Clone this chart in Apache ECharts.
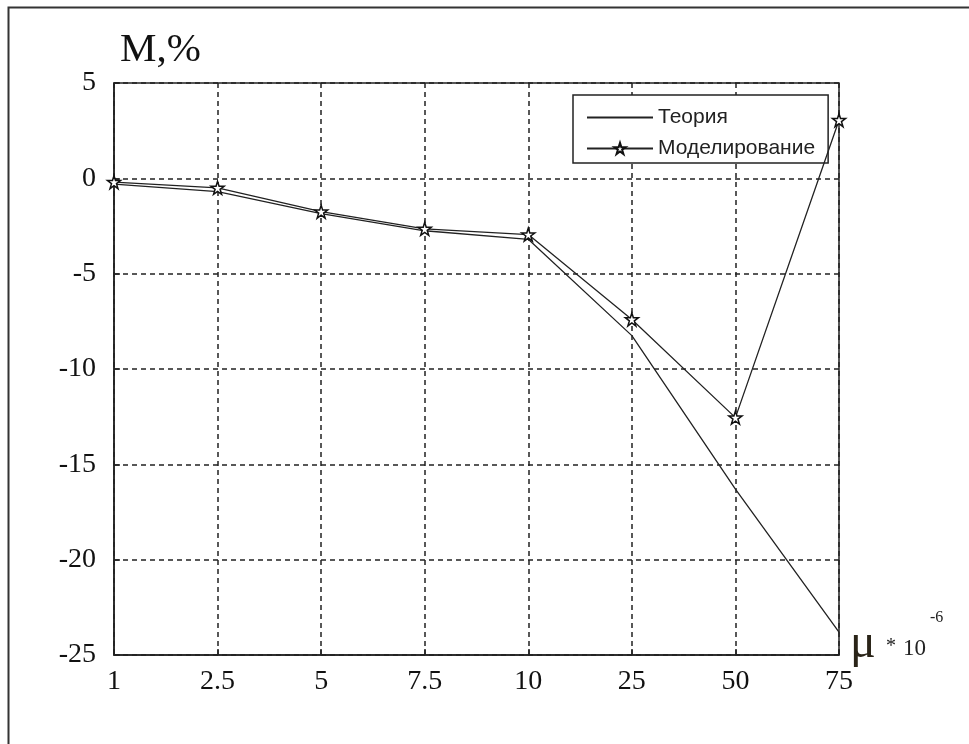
<!DOCTYPE html>
<html>
<head>
<meta charset="utf-8">
<script src="https://cdn.jsdelivr.net/npm/echarts@6/dist/echarts.min.js"></script>
<style>html,body{margin:0;padding:0;background:#fff;}#c{width:969px;height:744px;}</style>
</head>
<body>
<div id="c"></div>
<script>
const categories = ['1', '2.5', '5', '7.5', '10', '25', '50', '75'];
const theory = [-0.3, -0.7, -1.85, -2.75, -3.2, -8.25, -16.3, -23.8];
const modeling = [-0.2, -0.5, -1.75, -2.65, -2.95, -7.4, -12.55, 3.05];
const yTicks = { min: -25, max: 5, step: 5 };

const star = 'path://M50,2 L61,36 L97,36 L68,57 L79,92 L50,71 L21,92 L32,57 L3,36 L39,36 Z';

const chart = echarts.init(document.getElementById('c'), null, { renderer: 'canvas' });
const serif = 'Liberation Serif';
chart.setOption({
  animation: false,
  backgroundColor: '#fff',
  grid: { left: 114, right: 130, top: 83, bottom: 89, show: true, borderColor: '#222', borderWidth: 1.5, backgroundColor: 'transparent' },
  legend: {
    show: true,
    orient: 'vertical',
    left: 573,
    top: 95,
    padding: [12, 13, 4, 13],
    itemGap: 10,
    itemWidth: 66,
    itemHeight: 14,
    backgroundColor: '#fff',
    borderColor: '#222',
    borderWidth: 1.5,
    textStyle: { fontFamily: 'Liberation Sans', fontSize: 21, color: '#222' },
    data: [
      { name: 'Теория', itemStyle: { color: 'rgba(0,0,0,0)', borderColor: 'rgba(0,0,0,0)', borderWidth: 0 } },
      { name: 'Моделирование' }
    ]
  },
  xAxis: {
    type: 'category', data: categories, boundaryGap: false,
    axisLine: { onZero: false, lineStyle: { color: '#222', width: 1.5 } },
    axisTick: { inside: true, length: 6, lineStyle: { color: '#222', width: 1.5 } },
    axisLabel: { fontFamily: serif, fontSize: 28, color: '#111', margin: 13 },
    splitLine: { show: true, lineStyle: { color: '#222', type: [5, 4], width: 1.5 } }
  },
  yAxis: {
    type: 'value', min: yTicks.min, max: yTicks.max, interval: yTicks.step,
    name: 'M,%', nameLocation: 'end', nameGap: 12,
    nameTextStyle: { fontFamily: serif, fontSize: 41, color: '#111', align: 'left', padding: [0, 0, 0, 6] },
    axisLine: { show: true, lineStyle: { color: '#222', width: 1.5 } },
    axisTick: { show: true, inside: true, length: 6, lineStyle: { color: '#222', width: 1.5 } },
    axisLabel: { fontFamily: serif, fontSize: 28, color: '#111', margin: 18, verticalAlign: 'middle' },
    splitLine: { show: true, lineStyle: { color: '#222', type: [5, 4], width: 1.5 } }
  },
  series: [
    {
      name: 'Теория', type: 'line', data: theory, symbol: 'none',
      lineStyle: { color: '#222', width: 1.3 }, itemStyle: { color: '#222' }, z: 3
    },
    {
      name: 'Моделирование', type: 'line', data: modeling,
      symbol: star, symbolSize: 13,
      lineStyle: { color: '#222', width: 1.3 },
      itemStyle: { color: '#fff', borderColor: '#111', borderWidth: 1.5 }, z: 4
    }
  ],
  graphic: [
    { type: 'rect', left: 6, top: 5, shape: { width: 1000, height: 800 }, style: { fill: 'none', stroke: '#333', lineWidth: 2 }, silent: true, z: -1 },
    { type: 'text', left: 850, top: 620, style: { text: 'μ', font: '48px "Liberation Serif"', fill: '#2a2418' } },
    { type: 'text', left: 886, top: 637, style: { text: '*', font: '20px "Liberation Serif"', fill: '#222' } },
    { type: 'text', left: 903, top: 637, style: { text: '10', font: '23px "Liberation Serif"', fill: '#222' } },
    { type: 'text', left: 930, top: 610, style: { text: '-6', font: '16px "Liberation Serif"', fill: '#222' } }
  ]
});
</script>
</body>
</html>
